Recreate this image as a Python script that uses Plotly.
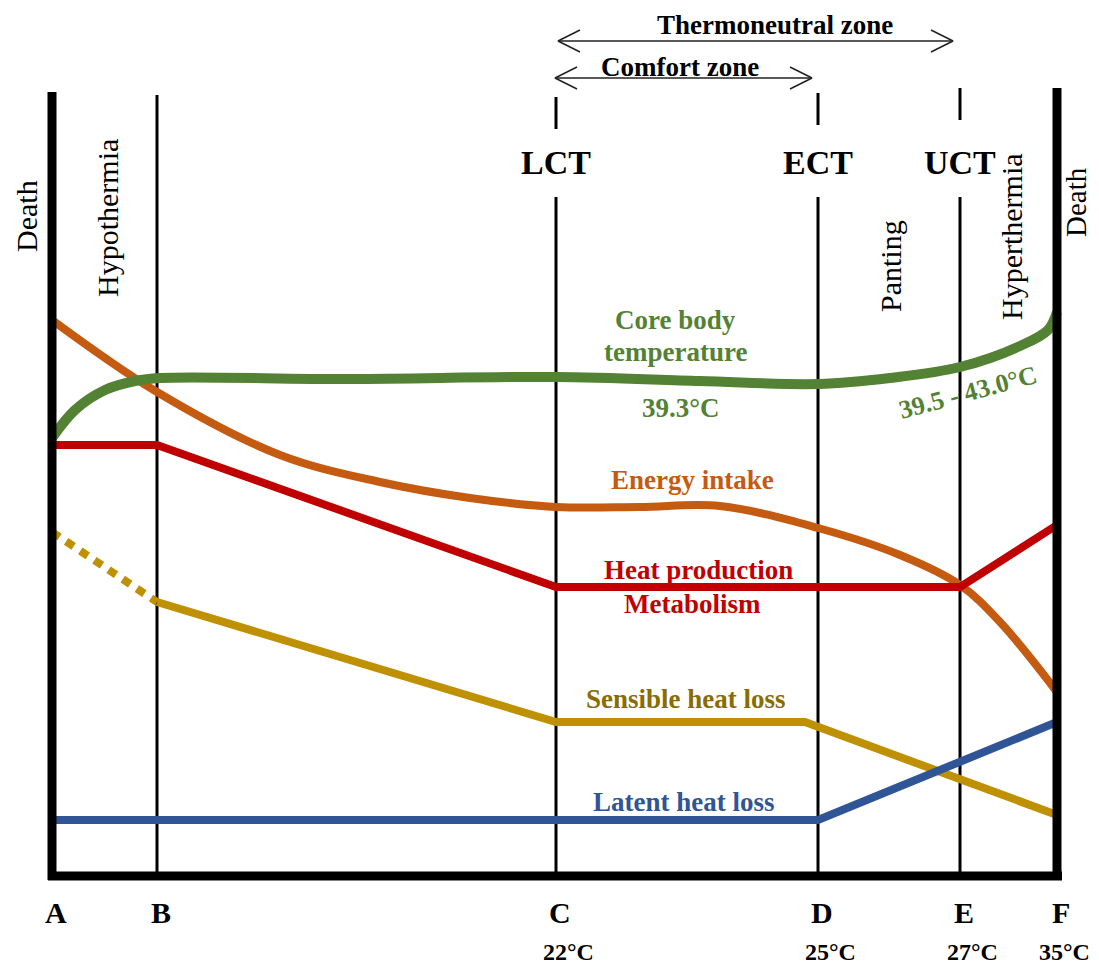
import plotly.graph_objects as go

# posições dos limites de temperatura (coordenadas do esquema)
limites_x = [52, 157, 556, 818, 960, 1057]
limites_letras = ['A', 'B', 'C', 'D', 'E', 'F']
limites_temp = ['', '', '22°C', '25°C', '27°C', '35°C']
limiares = ['LCT', 'ECT', 'UCT']

core_x = [52, 75, 105, 135, 160, 350, 556, 700, 818, 890, 960, 1020, 1048, 1057]
core_y = [438, 410, 390, 381, 378, 379, 377, 381, 384, 378, 367, 346, 330, 312]

energia_x = [52, 157, 280, 380, 470, 556, 640, 720, 818, 900, 960, 1000, 1057]
energia_y = [320, 392, 455, 482, 498, 507, 507, 506, 528, 555, 585, 622, 692]

calor_x = [52, 157, 556, 960, 1057]
calor_y = [445, 445, 587, 587, 525]

sensivel_pont_x = [52, 157]
sensivel_pont_y = [532, 602]
sensivel_x = [157, 556, 805, 1057]
sensivel_y = [602, 722, 722, 815]

latente_x = [52, 818, 1057]
latente_y = [820, 820, 722]

VERDE = '#548235'
LARANJA = '#C55A11'
VERMELHO = '#C00000'
OURO = '#BF9000'
AZUL = '#2F5597'
SERIF = 'Liberation Serif'

fig = go.Figure()

# linhas verticais finas (B..E)
for i, x in enumerate(limites_x[1:-1]):
    if i == 0:
        segs = [(95, 877)]
    else:
        topo = [97, 93, 88][i - 1]
        segs = [(topo, topo + 32), (197, 877)]
    for y0, y1 in segs:
        fig.add_trace(go.Scatter(x=[x, x], y=[y0, y1], mode='lines',
                                 line=dict(color='black', width=3),
                                 hoverinfo='skip', showlegend=False))


def curva(xs, ys, cor, largura, forma='linear', dash=None):
    fig.add_trace(go.Scatter(
        x=xs, y=ys, mode='lines',
        line=dict(color=cor, width=largura, shape=forma, dash=dash),
        hoverinfo='skip', showlegend=False
    ))


curva(sensivel_pont_x, sensivel_pont_y, OURO, 8, dash='9px,8px')
curva(sensivel_x, sensivel_y, OURO, 8)
curva(latente_x, latente_y, AZUL, 8)
curva(energia_x, energia_y, LARANJA, 8, forma='spline')
curva(calor_x, calor_y, VERMELHO, 8)
curva(core_x, core_y, VERDE, 10, forma='spline')

# linhas grossas A, F e eixo inferior
for x, topo in [(limites_x[0], 92), (limites_x[-1], 88)]:
    fig.add_trace(go.Scatter(x=[x, x], y=[topo, 880], mode='lines',
                             line=dict(color='black', width=9),
                             hoverinfo='skip', showlegend=False))
fig.add_trace(go.Scatter(x=[limites_x[0] - 4, limites_x[-1] + 5], y=[876, 876], mode='lines',
                         line=dict(color='black', width=9),
                         hoverinfo='skip', showlegend=False))

# setas das zonas
for x0, x1, y in [(558, 953, 41), (555, 812, 78)]:
    for xs, ys in [([x0, x1], [y, y]),
                   ([x0 + 22, x0, x0 + 22], [y - 11, y, y + 11]),
                   ([x1 - 22, x1, x1 - 22], [y - 11, y, y + 11])]:
        fig.add_trace(go.Scatter(x=xs, y=ys, mode='lines',
                                 line=dict(color='#222', width=1.5),
                                 hoverinfo='skip', showlegend=False))


def texto(x, y, t, tam, cor='black', bold=True, ang=0):
    fig.add_annotation(x=x, y=y, text=f'<b>{t}</b>' if bold else t,
                       showarrow=False, textangle=ang,
                       xanchor='center', yanchor='middle',
                       font=dict(family=SERIF, size=tam, color=cor))


texto(775, 25, 'Thermoneutral zone', 27)
texto(680, 67, 'Comfort zone', 27)

for x, t in zip(limites_x[2:5], limiares):
    texto(x, 162, t, 34)

for x, l, t in zip(limites_x, limites_letras, limites_temp):
    texto(x + 4, 912, l, 30)
    if t:
        texto(min(x + 12, 1064), 952, t, 24)

texto(26, 216, 'Death', 30, bold=False, ang=-90)
texto(107, 218, 'Hypothermia', 30, bold=False, ang=-90)
texto(890, 266, 'Panting', 30, bold=False, ang=-90)
texto(1011, 237, 'Hyperthermia', 30, bold=False, ang=-90)
texto(1076, 202, 'Death', 29, bold=False, ang=-90)

texto(675, 320, 'Core body', 27, VERDE)
texto(675, 352, 'temperature', 27, VERDE)
texto(681, 408, '39.3°C', 27, VERDE)
texto(968, 392, '39.5 - 43.0°C', 26, VERDE, ang=-15)
texto(692, 480, 'Energy intake', 27, LARANJA)
texto(698, 570, 'Heat production', 27, VERMELHO)
texto(692, 604, 'Metabolism', 27, VERMELHO)
texto(686, 699, 'Sensible heat loss', 27, '#8A6D00')
texto(684, 802, 'Latent heat loss', 27, AZUL)

# a página tem 8px de margem: o eixo cobre exatamente a área visível
fig.update_layout(
    width=1083, height=959,
    margin=dict(l=0, r=0, t=0, b=0),
    paper_bgcolor='white', plot_bgcolor='white',
    xaxis=dict(range=[8, 1091], visible=False, fixedrange=True),
    yaxis=dict(range=[967, 8], visible=False, fixedrange=True),
)

fig.write_html('out.html')
